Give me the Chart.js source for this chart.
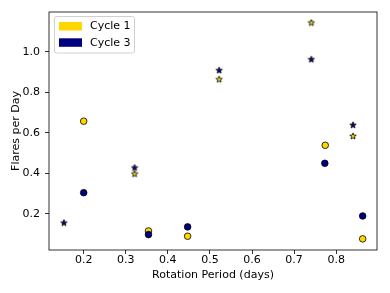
<!DOCTYPE html>
<html>
<head>
<meta charset="utf-8">
<script src="https://cdn.jsdelivr.net/npm/chart.js@4"></script>
<style>
  html, body { margin: 0; padding: 0; background: #fff; }
  #wrap { width: 390px; height: 293px; }
</style>
</head>
<body>
<div id="wrap"><canvas id="chart-flares" width="390" height="293"></canvas></div>
<script>
// circles = measured rates, stars = second estimate
const c1Period = [0.200, 0.354, 0.447, 0.774, 0.863];
const c1Flares = [0.658, 0.116, 0.090, 0.539, 0.077];
const c3Period = [0.200, 0.354, 0.447, 0.773, 0.863];
const c3Flares = [0.305, 0.098, 0.136, 0.450, 0.190];
const c1StarPeriod = [0.321, 0.522, 0.741, 0.840];
const c1StarFlares = [0.399, 0.865, 1.145, 0.585];
const c3StarPeriod = [0.153, 0.321, 0.522, 0.741, 0.840];
const c3StarFlares = [0.157, 0.429, 0.910, 0.964, 0.640];
const xTicks = [0.2, 0.3, 0.4, 0.5, 0.6, 0.7, 0.8];
const yTicks = [0.2, 0.4, 0.6, 0.8, 1.0];
const legendNames = ['Cycle 1', 'Cycle 3'];

const gold = '#FFD700';
const navy = '#000080';
const font = 'DejaVu Sans';

function pts(xs, ys) {
  return xs.map((x, i) => ({ x: x, y: ys[i] }));
}

// little filled star with a black edge, used as pointStyle
function starImg(fill) {
  const c = document.createElement('canvas');
  c.width = 8; c.height = 8;
  const g = c.getContext('2d');
  const cx = 4, cy = 4.3, ro = 3.4, ri = 1.45;
  g.beginPath();
  for (let i = 0; i < 10; i++) {
    const r = i % 2 === 0 ? ro : ri;
    const a = -Math.PI / 2 + i * Math.PI / 5;
    const px = cx + r * Math.cos(a), py = cy + r * Math.sin(a);
    if (i === 0) g.moveTo(px, py); else g.lineTo(px, py);
  }
  g.closePath();
  g.fillStyle = fill;
  g.fill();
  g.lineWidth = 0.8;
  g.strokeStyle = '#000';
  g.stroke();
  return c;
}

const framePlugin = {
  id: 'frame',
  afterDraw(chart) {
    const ctx = chart.ctx;
    const a = chart.chartArea;
    ctx.save();
    ctx.strokeStyle = '#000';
    ctx.lineWidth = 0.8;
    ctx.strokeRect(a.left, a.top, a.right - a.left, a.bottom - a.top);

    // legend box in upper left
    const lx = a.left + 5.5, ly = a.top + 4.5;
    ctx.fillStyle = 'rgba(255,255,255,0.8)';
    ctx.strokeStyle = '#d0d0d0';
    ctx.lineWidth = 1;
    ctx.beginPath();
    ctx.roundRect(lx, ly, 80, 36.5, 2);
    ctx.fill();
    ctx.stroke();
    const cols = [gold, navy];
    ctx.font = '11px "' + font + '"';
    ctx.textBaseline = 'middle';
    legendNames.forEach((name, i) => {
      const yy = ly + 5.5 + i * 16.3;
      ctx.fillStyle = cols[i];
      ctx.fillRect(lx + 4.5, yy, 23, 8.5);
      ctx.fillStyle = '#000';
      ctx.fillText(name, lx + 35.5, yy + 4.5);
    });
    ctx.restore();
  }
};

const dataFlares = {
  datasets: [{
      label: 'Cycle 1',
      data: pts(c1Period, c1Flares),
      backgroundColor: gold,
      borderColor: '#000',
      borderWidth: 0.8,
      pointRadius: 3.3,
      order: 4
    }, {
      label: 'Cycle 3',
      data: pts(c3Period, c3Flares),
      backgroundColor: navy,
      borderColor: '#000',
      borderWidth: 0.8,
      pointRadius: 3.3,
      order: 3
    }, {
      label: 'Cycle 1 stars',
      data: pts(c1StarPeriod, c1StarFlares),
      pointStyle: starImg(gold),
      order: 2
    }, {
      label: 'Cycle 3 stars',
      data: pts(c3StarPeriod, c3StarFlares),
      pointStyle: starImg(navy),
      order: 1
    }
  ]
};

const configFlares = {
  type: 'scatter',
  data: dataFlares,
  options: {
    responsive: false,
    animation: false,
    events: [],
    layout: { padding: { left: 0, top: 12, right: 13, bottom: 0 } },
    plugins: {
      legend: { display: false },
      tooltip: { enabled: false }
    },
    scales: {
      x: {
        type: 'linear',
        min: 0.1176,
        max: 0.897,
        afterBuildTicks: (s) => { s.ticks = xTicks.map(v => ({ value: v })); },
        afterFit: (s) => { s.height = 43; },
        grid: { drawOnChartArea: false, drawTicks: true, tickLength: 4, color: '#000', lineWidth: 0.8 },
        border: { display: false },
        ticks: {
          color: '#000',
          padding: 0,
          maxRotation: 0,
          font: { family: font, size: 11 },
          callback: (v) => Number(v).toFixed(1)
        },
        title: {
          display: true,
          text: 'Rotation Period (days)',
          color: '#000',
          font: { family: font, size: 11 },
          padding: { top: 0, bottom: 11 }
        }
      },
      y: {
        type: 'linear',
        min: 0.022,
        max: 1.197,
        afterBuildTicks: (s) => { s.ticks = yTicks.map(v => ({ value: v })); },
        afterFit: (s) => { s.width = 49; },
        grid: { drawOnChartArea: false, drawTicks: true, tickLength: 4, color: '#000', lineWidth: 0.8 },
        border: { display: false },
        ticks: {
          color: '#000',
          padding: 5,
          font: { family: font, size: 11 },
          callback: (v) => Number(v).toFixed(1)
        },
        title: {
          display: true,
          text: 'Flares per Day',
          color: '#000',
          font: { family: font, size: 11 },
          padding: { top: 10, bottom: 0 }
        }
      }
    }
  },
  plugins: [framePlugin]
};

const myChartFlares = new Chart(
  document.getElementById('chart-flares'),
  configFlares
);
</script>
</body>
</html>
